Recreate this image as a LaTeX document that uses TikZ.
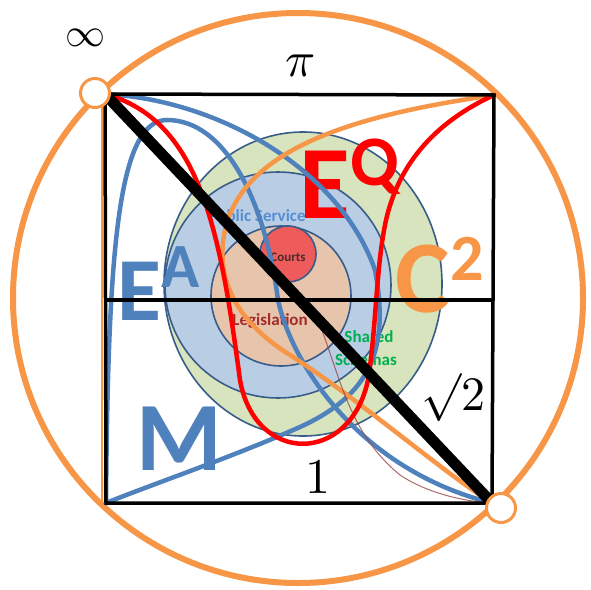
\documentclass[tikz,border=0pt]{standalone}
\usepackage{fontspec}
\setsansfont{Carlito}
\usepackage{tikz}
\usetikzlibrary{calc}
\definecolor{drBlue}{HTML}{4F81BD}
\definecolor{drOrange}{HTML}{F79646}
\definecolor{drRed}{HTML}{FF0000}
\definecolor{drRing}{HTML}{385D8A}
\definecolor{drGreen}{HTML}{D7E4BD}
\definecolor{drSlate}{HTML}{B9CDE5}
\definecolor{drPeach}{HTML}{E6C5AC}
\definecolor{drCourt}{HTML}{EE5B5B}
\definecolor{drSky}{HTML}{558ED5}
\definecolor{drWine}{HTML}{A52A2A}
\definecolor{drLeaf}{HTML}{00B050}
\definecolor{drInk}{HTML}{4A2C2A}
\tikzset{
  rim/.style={draw=drOrange, line width=6pt},
  ring/.style={draw=drRing, line width=1.6pt},
  edge/.style={draw=black, line width=3.5pt},
  fieldtag/.style={font=\sffamily\bfseries\fontsize{17}{17}\selectfont, inner sep=0pt},
  bigletter/.style={font=\sffamily\bfseries\fontsize{#1}{#1}\selectfont, inner sep=0pt, anchor=base west},
  curve/.style={line width=4.5pt, line cap=round},
  bluecurve/.style={curve, draw=drBlue},
  redcurve/.style={curve, draw=drRed},
  orangecurve/.style={curve, draw=drOrange},
  thread/.style={line width=1pt, draw=drWine!70!gray, opacity=0.8},
  knot/.style={circle, draw=drOrange, fill=white, line width=3pt, minimum size=29pt, inner sep=0pt},
  mathtag/.style={inner sep=0pt, scale=#1}
}
\begin{document}
\begin{tikzpicture}[x=1pt, y=-1pt]
  \useasboundingbox (0,0) rectangle (591,589);
  % corners of the unit square
  \coordinate (tl) at (105,94);
  \coordinate (tr) at (494,95);
  \coordinate (bl) at (106,503);
  \coordinate (br) at (492,503);
  \coordinate (midL) at (105,300);
  \coordinate (midR) at (494,300);

  % outer circle
  \draw[rim] (298,298) circle[radius=285];

  % nested fields
  \draw[ring, fill=drGreen] (303,284) ellipse[x radius=139, y radius=152];
  \draw[ring, fill=drSlate] (278,285) circle[radius=113];
  \draw[ring, fill=drPeach] (281,296) circle[radius=70];
  \draw[ring, fill=drCourt] (288,254) circle[radius=28];

  \node[fieldtag, text=drSky] (pubserv) at (257,216) {Public Service};
  \node[fieldtag, text=drInk, font=\sffamily\bfseries\fontsize{13}{13}\selectfont] (courts) at (288,257) {Courts};
  \node[fieldtag, text=drWine] (legis) at (270,321) {Legislation};
  \node[fieldtag, text=drLeaf] (shared) at (369,337) {Shared};
  \node[fieldtag, text=drLeaf] (schemas) at (366,360) {Schemas};

  % big letters
  \node[bigletter=90, text=drBlue] (eaE) at (117,320) {E};
  \node[bigletter=63, text=drBlue] (eaA) at (161,287) {A};
  \node[bigletter=98, text=drBlue] (mM) at (136,470) {M};
  \node[bigletter=104, text=drRed] (eqE) at (299,218) {E};
  \node[bigletter=71, text=drRed] (eqQ) at (350,185) {Q};
  \node[bigletter=103, text=drOrange] (cC) at (395,312) {C};
  \node[bigletter=66, text=drOrange] (c2) at (450,280) {2};

  % curves
  \draw[bluecurve] (bl) .. controls (108,250) and (118,120) .. (167,120)
    .. controls (225,120) and (265,200) .. (278,300)
    .. controls (292,365) and (360,470) .. (br);
  \draw[bluecurve] (tl) .. controls (220,100) and (340,170) .. (375,270)
    .. controls (390,350) and (370,395) .. (300,427)
    .. controls (230,458) and (150,485) .. (bl);
  \draw[orangecurve] (tr) .. controls (380,112) and (245,140) .. (225,230)
    .. controls (212,290) and (250,330) .. (290,355)
    .. controls (360,400) and (440,470) .. (br);
  \draw[thread] (312,305) .. controls (340,370) and (345,430) .. (400,475)
    .. controls (430,495) and (470,502) .. (br);
  \draw[redcurve] (tl) .. controls (200,120) and (220,230) .. (240,380)
    .. controls (255,465) and (350,465) .. (368,380)
    .. controls (376,330) and (376,270) .. (385,225)
    .. controls (398,160) and (440,120) .. (tr);

  % unit square
  \draw[drOrange, line width=1.5pt] ($(tl)+(-3,2)$) -- ($(bl)+(-4,2)$);
  \draw[edge] (tl) -- (tr) -- (br) -- (bl) -- cycle;
  \draw[edge] (midL) -- (midR);
  \draw[line width=11pt] (tl) -- (br);

  \node[knot] (knotA) at (95,93) {};
  \node[knot] (knotB) at (501,508) {};

  % math labels
  \node[mathtag=4] (inf) at (85,38) {$\infty$};
  \node[mathtag=5] (pi) at (301,66) {$\pi$};
  \node[mathtag=5] (one) at (318,477) {$1$};
  \node[mathtag=4.8] (root) at (453,398) {$\surd2$};
\end{tikzpicture}
\end{document}
